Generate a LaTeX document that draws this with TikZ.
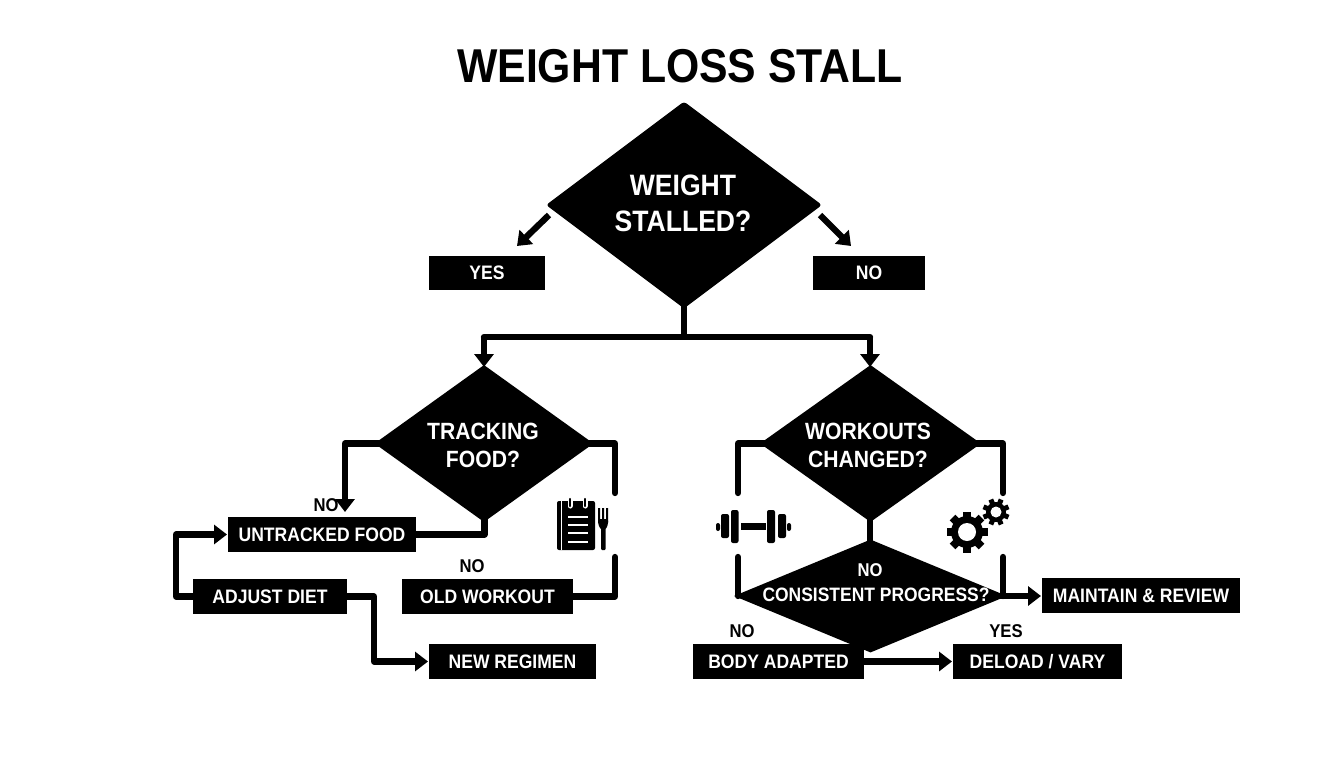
\documentclass[tikz,border=0pt]{standalone}
\usepackage{fontspec}
\setmainfont[FakeStretch=0.9]{Liberation Sans}
\usetikzlibrary{shapes.geometric,arrows.meta,calc}
\tikzset{
  x=1pt,y=-1pt,
  dia/.style n args={2}{diamond,fill=black,draw=none,inner sep=0pt,minimum width=#1,minimum height=#2,shape aspect=1},
  boxn/.style n args={2}{rectangle,fill=black,text=white,font=\bfseries\fontsize{19.5}{20}\selectfont,inner sep=0pt,minimum width=#1,minimum height=#2},
  dtext/.style={text=white,font=\bfseries\fontsize{29.5}{36}\selectfont,align=center,inner sep=0pt},
  dsmall/.style={text=white,font=\bfseries\fontsize{23.5}{28}\selectfont,align=center,inner sep=0pt},
  lab/.style={text=black,font=\bfseries\fontsize{18.5}{20}\selectfont,inner sep=0pt},
  conn/.style={line width=6.3pt,line join=round,line cap=round,draw=black},
  arr/.style={conn,line cap=butt,-{Triangle[length=13pt,width=19pt]}},
  plate/.style={fill=black,rounded corners=2pt},
}
\begin{document}
\begin{tikzpicture}
\useasboundingbox[fill=white] (0,0) rectangle (1344,768);
% title
\node[text=black,font=\bfseries\fontsize{47.5}{54}\selectfont,inner sep=0pt] (title) at (680,66) {WEIGHT LOSS STALL};
% diamonds
\node[dia={276pt}{207pt},rounded corners=3pt] (main) at (684,205) {};
\node[dia={219pt}{157pt}] (track) at (484,443.5) {};
\node[dia={221pt}{157pt}] (work) at (870.5,443.5) {};
\node[dia={273pt}{113pt}] (prog) at (870.5,596) {};
\node[dtext] (maint) at (683,203) {WEIGHT\\[0pt]STALLED?};
\node[dsmall] (trackt) at (483,445) {TRACKING\\FOOD?};
\node[dsmall] (workt) at (868,445) {WORKOUTS\\CHANGED?};
\node[text=white,font=\bfseries\fontsize{18.5}{20}\selectfont,inner sep=0pt] (progno) at (870,570) {NO};
\node[text=white,font=\bfseries\fontsize{19.4}{20}\selectfont,inner sep=0pt] (progt) at (876,595) {CONSISTENT PROGRESS?};
% boxes
\node[boxn={116pt}{34pt}] (yes) at (487,273) {YES};
\node[boxn={112pt}{34pt}] (no) at (869,273) {NO};
\node[boxn={188pt}{35pt}] (untracked) at (322,534.5) {UNTRACKED FOOD};
\node[boxn={154pt}{35pt}] (adjust) at (270,596.5) {ADJUST DIET};
\node[boxn={171pt}{35pt}] (old) at (487.5,596.5) {OLD WORKOUT};
\node[boxn={167pt}{35pt}] (regimen) at (512.5,661.5) {NEW REGIMEN};
\node[boxn={171pt}{35pt}] (body) at (778.5,661.5) {BODY ADAPTED};
\node[boxn={169pt}{35pt}] (deload) at (1037.5,661.5) {DELOAD / VARY};
\node[boxn={198pt}{35pt}] (review) at (1141,595.5) {MAINTAIN \& REVIEW};
% free labels
\node[lab] (no1) at (326,505) {NO};
\node[lab] (no2) at (472,566) {NO};
\node[lab] (no3) at (742,631) {NO};
\node[lab] (yes2) at (1006,631) {YES};
% named bends
\coordinate (a1) at (549,215); \coordinate (a2) at (517,246);
\coordinate (b1) at (820,215); \coordinate (b2) at (851,246);
\coordinate (t0) at (684,295); \coordinate (t1) at (684,337); \coordinate (t2) at (484,337); \coordinate (t3) at (870,337);
\coordinate (tn) at (484,367); \coordinate (wn) at (870,367);
\coordinate (tli) at (385,443.5); \coordinate (tri) at (583,443.5);
\coordinate (tl) at (345,443.5); \coordinate (tln) at (345,512);
\coordinate (tr) at (615,443.5); \coordinate (trb) at (615,493);
\coordinate (ort) at (615,557); \coordinate (orb) at (615,596.5);
\coordinate (ts) at (484.5,512); \coordinate (tb) at (484.5,534.5);
\coordinate (al) at (176,596.5); \coordinate (alt) at (176,534.5); \coordinate (ut) at (227,534.5);
\coordinate (ar) at (374,596.5); \coordinate (arb) at (374,661.5); \coordinate (rg) at (428,661.5);
\coordinate (wli) at (770,443.5); \coordinate (wri) at (970,443.5);
\coordinate (wl) at (738,443.5); \coordinate (wlb) at (738,493);
\coordinate (wr) at (1003,443.5); \coordinate (wrb) at (1003,493);
\coordinate (ws) at (870,512); \coordinate (pn) at (870,550);
\coordinate (pl) at (738,557); \coordinate (plb) at (738,596);
\coordinate (pr) at (1003,557); \coordinate (prb) at (1003,596);
\coordinate (pe) at (1000,596); \coordinate (m1) at (1041,596); \coordinate (d1) at (952,661.5);
% connectors
\draw[arr] (a1) -- (a2);
\draw[arr] (b1) -- (b2);
\draw[conn,line cap=butt] (t0) -- (t1);
\draw[arr] (t2) -- (tn);
\draw[arr] (t3) -- (wn);
\draw[conn] (t2) -- (t3);
\draw[arr] (tli) -- (tl) -- (tln);
\draw[conn] (tri) -- (tr) -- (trb);
\draw[conn] (ort) -- (orb) -- (old.east);
\draw[conn] (ts) -- (tb) -- (untracked.east);
\draw[arr] (adjust.west) -- (al) -- (alt) -- (ut);
\draw[arr] (adjust.east) -- (ar) -- (arb) -- (rg);
\draw[conn] (wli) -- (wl) -- (wlb);
\draw[conn] (wri) -- (wr) -- (wrb);
\draw[conn,line cap=butt] (ws) -- (pn);
\draw[conn] (pl) -- (plb);
\draw[conn] (pr) -- (prb);
\draw[arr] (pe) -- (m1);
\draw[arr] (body.east) -- (d1);
% notebook icon
\fill[black,rounded corners=2pt] (557,501) rectangle (595,550);
\draw[white,line width=1.2pt] (561.5,501) -- (561.5,550);
\foreach \yy in {517,525,533,542} \draw[white,line width=1.5pt] (568,\yy) -- (588,\yy);
\foreach \xx in {570,585} {\draw[white,line width=5pt,line cap=round] (\xx,499) -- (\xx,506); \draw[black,line width=2.5pt,line cap=round] (\xx,499) -- (\xx,506);}
% fork
\fill[black,rounded corners=1pt] (601,525) rectangle (605.5,550);
\fill[black] (598,508) rectangle (600,522) (602,508) rectangle (604.2,522) (606.2,508) rectangle (608.2,522);
\fill[black,rounded corners=2pt] (598,519) -- (608.2,519) -- (608.2,524) -- (605.5,530) -- (601,530) -- (598,524) -- cycle;
% dumbbell icon
\fill[plate] (716,523) rectangle (720,531);
\fill[plate] (721,514) rectangle (729,538);
\fill[plate] (731,510) rectangle (738.5,543);
\fill[black] (741,523) rectangle (766,530);
\fill[plate] (767,510) rectangle (775,543);
\fill[plate] (778,514) rectangle (786,538);
\fill[plate] (787,523) rectangle (791,531);
% gears
\begin{scope}[shift={(967,532)}]
  \fill[black] (0,0) circle (16);
  \foreach \ang in {0,45,...,315} \fill[black,rotate=\ang] (-4,-20.5) rectangle (4,0);
  \fill[white] (0,0) circle (9);
\end{scope}
\begin{scope}[shift={(996,512)}]
  \fill[black] (0,0) circle (10);
  \foreach \ang in {22.5,67.5,...,337.5} \fill[black,rotate=\ang] (-2.5,-13.5) rectangle (2.5,0);
  \fill[white] (0,0) circle (5.5);
\end{scope}
\end{tikzpicture}
\end{document}
